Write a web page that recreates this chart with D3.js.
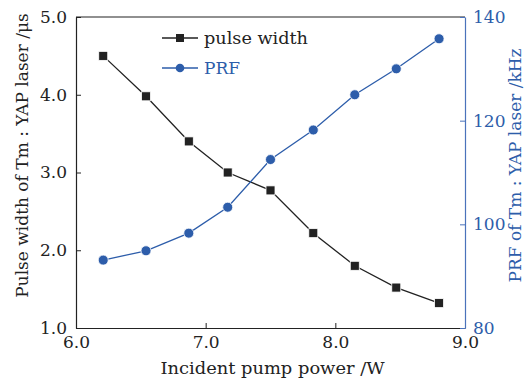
<!DOCTYPE html>
<html>
<head>
<meta charset="utf-8">
<script src="https://cdn.jsdelivr.net/npm/d3@7"></script>
<style>
  html, body { margin: 0; padding: 0; background: #fff; }
  svg { display: block; font-family: "DejaVu Serif", "Liberation Serif", serif; }
</style>
</head>
<body>
<svg id="chart" width="530" height="384"></svg>
<script>
// Incident pump power (W)
const power = [6.21, 6.54, 6.87, 7.17, 7.5, 7.83, 8.15, 8.47, 8.8];
// Pulse width (µs)
const pulseWidth = [4.5, 3.98, 3.4, 3.0, 2.77, 2.22, 1.8, 1.52, 1.32];
// Pulse repetition frequency (kHz)
const prf = [93.1, 94.9, 98.3, 103.3, 112.5, 118.2, 125.0, 130.0, 135.8];

const xTicks = [6.0, 7.0, 8.0, 9.0];
const yLeftTicks = [1.0, 2.0, 3.0, 4.0, 5.0];
const yRightTicks = [80, 100, 120, 140];

const BLACK = "#222";
const BLUE = "#2d5daa";
const AXIS_BLUE = "#4a72bb";

const svg = d3.select("#chart");
const m = { left: 76, right: 465, top: 17, bottom: 328 };

const x = d3.scaleLinear().domain([6, 9]).range([m.left, m.right]);
const yL = d3.scaleLinear().domain([1, 5]).range([m.bottom, m.top]);
const yR = d3.scaleLinear().domain([80, 140]).range([m.bottom, m.top]);

// top frame line
svg.append("line")
  .attr("x1", m.left).attr("x2", m.right)
  .attr("y1", m.top).attr("y2", m.top)
  .attr("stroke", BLACK).attr("stroke-width", 1.2);

// bottom axis
const gx = svg.append("g").attr("transform", `translate(0,${m.bottom})`)
  .call(d3.axisBottom(x).tickValues(xTicks).tickFormat(d3.format(".1f"))
    .tickSizeInner(-5).tickSizeOuter(0).tickPadding(7));
// left axis
const gl = svg.append("g").attr("transform", `translate(${m.left},0)`)
  .call(d3.axisLeft(yL).tickValues(yLeftTicks).tickFormat(d3.format(".1f"))
    .tickSizeInner(-5).tickSizeOuter(0).tickPadding(9));
// right axis
const gr = svg.append("g").attr("transform", `translate(${m.right},0)`)
  .call(d3.axisRight(yR).tickValues(yRightTicks)
    .tickSizeInner(-5).tickSizeOuter(0).tickPadding(8));

[gx, gl].forEach(g => {
  g.select(".domain").attr("stroke", BLACK).attr("stroke-width", 1.2);
  g.selectAll(".tick line").attr("stroke", BLACK);
  g.selectAll(".tick text").attr("fill", BLACK).attr("font-size", 17)
    .attr("font-family", "DejaVu Serif, serif");
});
gr.select(".domain").attr("stroke", AXIS_BLUE).attr("stroke-width", 1.2);
gr.selectAll(".tick line").attr("stroke", AXIS_BLUE);
gr.selectAll(".tick text").attr("fill", BLUE).attr("font-size", 17)
  .attr("font-family", "DejaVu Serif, serif");

gx.selectAll(".tick text").attr("dy", "0.75em");

// axis titles
svg.append("text")
  .attr("x", (m.left + m.right) / 2 + 2).attr("y", 374)
  .attr("text-anchor", "middle").attr("font-size", 17).attr("fill", BLACK)
  .attr("textLength", 224).attr("lengthAdjust", "spacingAndGlyphs")
  .text("Incident pump power /W");

svg.append("text")
  .attr("transform", `translate(28,${(m.top + m.bottom) / 2 - 17}) rotate(-90)`)
  .attr("text-anchor", "middle").attr("font-size", 17).attr("fill", BLACK)
  .text("Pulse width of Tm : YAP laser /μs");

svg.append("text")
  .attr("transform", `translate(521,${(m.top + m.bottom) / 2 - 7}) rotate(-90)`)
  .attr("text-anchor", "middle").attr("font-size", 17).attr("fill", BLUE)
  .text("PRF of Tm : YAP laser /kHz");

// series
const pwData = power.map((p, i) => [p, pulseWidth[i]]);
const prfData = power.map((p, i) => [p, prf[i]]);

svg.append("path").datum(pwData)
  .attr("fill", "none").attr("stroke", BLACK).attr("stroke-width", 1.3)
  .attr("d", d3.line().x(d => x(d[0])).y(d => yL(d[1])));
svg.append("path").datum(prfData)
  .attr("fill", "none").attr("stroke", BLUE).attr("stroke-width", 1.3)
  .attr("d", d3.line().x(d => x(d[0])).y(d => yR(d[1])));

svg.selectAll("rect.pw").data(pwData).join("rect").attr("class", "pw")
  .attr("x", d => x(d[0]) - 4.5).attr("y", d => yL(d[1]) - 4.5)
  .attr("width", 9).attr("height", 9)
  .attr("fill", BLACK).attr("stroke", "#fff").attr("stroke-width", 0.8);
svg.selectAll("circle.prf").data(prfData).join("circle").attr("class", "prf")
  .attr("cx", d => x(d[0])).attr("cy", d => yR(d[1])).attr("r", 5)
  .attr("fill", BLUE).attr("stroke", "#fff").attr("stroke-width", 0.8);

// legend
const lg = svg.append("g");
lg.append("line").attr("x1", 162).attr("x2", 198).attr("y1", 38).attr("y2", 38)
  .attr("stroke", BLACK).attr("stroke-width", 1.3);
lg.append("rect").attr("x", 176).attr("y", 34).attr("width", 8).attr("height", 8)
  .attr("fill", BLACK);
lg.append("text").attr("x", 204).attr("y", 44).attr("font-size", 17).attr("fill", BLACK)
  .attr("textLength", 104).attr("lengthAdjust", "spacingAndGlyphs")
  .text("pulse width");
lg.append("line").attr("x1", 162).attr("x2", 198).attr("y1", 68).attr("y2", 68)
  .attr("stroke", BLUE).attr("stroke-width", 1.3);
lg.append("circle").attr("cx", 180).attr("cy", 68).attr("r", 4.3).attr("fill", BLUE);
lg.append("text").attr("x", 204).attr("y", 74).attr("font-size", 17).attr("fill", BLUE)
  .text("PRF");
</script>
</body>
</html>
